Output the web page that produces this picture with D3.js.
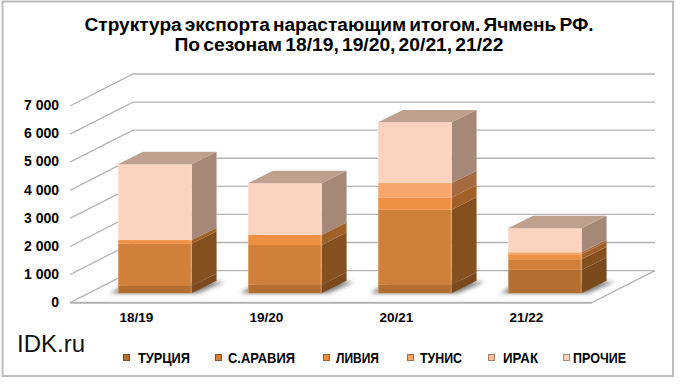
<!DOCTYPE html>
<html>
<head>
<meta charset="utf-8">
<script src="https://cdn.jsdelivr.net/npm/d3@7"></script>
<style>
html, body { margin: 0; padding: 0; background: #fff; }
svg { display: block; font-family: "Liberation Sans", Arial, sans-serif; }
</style>
</head>
<body>
<div id="chart-container"></div>
<script>
// values (thousand tons, cumulative)
var seasons = ["18/19", "19/20", "20/21", "21/22"];
var seriesNames = ["ТУРЦИЯ", "С.АРАВИЯ", "ЛИВИЯ", "ТУНИС", "ИРАК", "ПРОЧИЕ"];
var turkey = [260, 300, 300, 830];
var saudi = [1500, 1415, 2670, 380];
var libya = [130, 357, 440, 178];
var tunisia = [0, 0, 510, 70];
var iraq = [0, 0, 0, 0];
var other = [2700, 1840, 2160, 855];
var yTicks = [0, 1000, 2000, 3000, 4000, 5000, 6000, 7000];
var titleLines = ["Структура экспорта нарастающим итогом. Ячмень РФ.", "По сезонам 18/19, 19/20, 20/21, 21/22"];

var frontColors = ["#b46f30", "#d08038", "#ee8f42", "#f9a66c", "#fbc09a", "#fcd3bf"];
var sideColors = ["#7a4a1c", "#855020", "#a06028", "#a56a40", "#a87c64", "#a58878"];
var topColor = "#bfa08f";

var svgWidth = 680;
var svgHeight = 384;

var svg = d3.select("#chart-container")
    .append("svg")
    .attr("width", svgWidth)
    .attr("height", svgHeight);

var defs = svg.append("defs");
defs.append("filter")
    .attr("id", "blur")
    .attr("x", "-20%").attr("y", "-50%").attr("width", "140%").attr("height", "200%")
    .append("feGaussianBlur")
    .attr("stdDeviation", 2);

// outer frame
svg.append("rect")
    .attr("x", 2.5).attr("y", 1.5)
    .attr("width", 670.5).attr("height", 374.5)
    .attr("fill", "#fff")
    .attr("stroke", "#bdbdbd")
    .attr("stroke-width", 2);

// title
var titleLengths = [509, 329];
svg.selectAll(".title")
    .data(titleLines)
    .enter().append("text")
    .attr("class", "title")
    .attr("x", 339)
    .attr("y", function(d, i) { return 30.5 + i * 20.5; })
    .attr("text-anchor", "middle")
    .attr("font-size", 17.5)
    .attr("font-weight", "bold")
    .attr("word-spacing", -2)
    .attr("fill", "#000")
    .attr("textLength", function(d, i) { return titleLengths[i]; })
    .attr("lengthAdjust", "spacingAndGlyphs")
    .text(function(d) { return d; });

// scales: front edge of the floor, back wall, and the plane the bars stand on
var yFront = d3.scaleLinear().domain([0, 7000]).range([302.7, 106]);
var yBack = d3.scaleLinear().domain([0, 7000]).range([270.6, 74]);
var yBar = d3.scaleLinear().domain([0, 7000]).range([293.2, 96.5]);

var x = d3.scaleBand()
    .domain(seasons)
    .range([89.8, 609.8])
    .paddingInner(0.434)
    .paddingOuter(0.217);

var frontLeft = 70;
var backLeft = 133;
var backRight = 655;
var frontRight = 592;
var depthX = 25;
var depthY = 12.4;

// gridlines
svg.selectAll(".grid")
    .data(yTicks.filter(function(d) { return d > 0; }))
    .enter().append("polyline")
    .attr("class", "grid")
    .attr("fill", "none")
    .attr("stroke", "#b4b4b4")
    .attr("stroke-width", 1.3)
    .attr("points", function(d) {
        return [[frontLeft, yFront(d)], [backLeft, yBack(d)], [backRight, yBack(d)]].join(" ");
    });

// floor
svg.append("polygon")
    .attr("fill", "#fff")
    .attr("stroke", "#b4b4b4")
    .attr("stroke-width", 1.3)
    .attr("points", [
        [frontLeft, yFront(0)], [frontRight, yFront(0)],
        [backRight, yBack(0)], [backLeft, yBack(0)]
    ].join(" "));
svg.append("line")
    .attr("x1", frontLeft).attr("x2", frontRight)
    .attr("y1", yFront(0)).attr("y2", yFront(0))
    .attr("stroke", "#b4b4b4")
    .attr("stroke-width", 2);

var rows = seasons.map(function(s, i) {
    return { season: s, v0: turkey[i], v1: saudi[i], v2: libya[i], v3: tunisia[i], v4: iraq[i], v5: other[i] };
});
var stacked = d3.stack().keys(["v0", "v1", "v2", "v3", "v4", "v5"])(rows);

// bar shadows on the floor
svg.selectAll(".shadow")
    .data(seasons)
    .enter().append("polygon")
    .attr("class", "shadow")
    .attr("fill", "#555")
    .attr("opacity", 0.75)
    .attr("filter", "url(#blur)")
    .attr("points", function(d) {
        var x0 = x(d), x1 = x0 + x.bandwidth();
        return [[x0 - 8, yBar(0)], [x1 + 6, yBar(0)], [x1 + depthX + 8, yBar(0) - depthY + 1], [x0 + 12, yBar(0) - depthY + 1]].join(" ");
    });

// bars, one group per season so nearer segments stay in stacking order
seasons.forEach(function(season, i) {
    var g = svg.append("g").attr("class", "bar");
    var x0 = x(season);
    var x1 = x0 + x.bandwidth();

    stacked.forEach(function(layer, k) {
        var v0 = layer[i][0];
        var v1 = layer[i][1];
        if (v1 == v0) return;

        g.append("polygon")
            .attr("fill", sideColors[k])
            .attr("points", [
                [x1, yBar(v0)], [x1 + depthX, yBar(v0) - depthY],
                [x1 + depthX, yBar(v1) - depthY], [x1, yBar(v1)]
            ].join(" "));

        g.append("rect")
            .attr("x", x0)
            .attr("y", yBar(v1))
            .attr("width", x.bandwidth())
            .attr("height", yBar(v0) - yBar(v1))
            .attr("fill", frontColors[k]);

        // pale edges of the bevel
        g.append("path")
            .attr("fill", "none")
            .attr("stroke", "#fff")
            .attr("stroke-opacity", 0.25)
            .attr("d", "M" + (x0 + 0.5) + "," + yBar(v1) + "V" + yBar(v0) + "M" + (x1 - 0.5) + "," + yBar(v1) + "V" + yBar(v0));
    });

    var total = stacked[5][i][1];
    g.append("polygon")
        .attr("fill", topColor)
        .attr("points", [
            [x0, yBar(total)], [x1, yBar(total)],
            [x1 + depthX, yBar(total) - depthY], [x0 + depthX, yBar(total) - depthY]
        ].join(" "));
});

// y axis
var yAxis = d3.axisLeft(yFront)
    .tickValues(yTicks)
    .tickSize(0)
    .tickPadding(0)
    .tickFormat(function(d) { return d3.format(",")(d).replace(",", " "); });

svg.append("g")
    .attr("transform", "translate(59,-0.7)")
    .call(yAxis)
    .call(function(g) { g.select(".domain").remove(); })
    .selectAll("text")
    .attr("font-family", "Liberation Sans")
    .attr("font-size", 14)
    .attr("font-weight", "bold")
    .attr("fill", "#000");

// x axis labels
var xAxis = d3.axisBottom(x).tickSize(0).tickPadding(0);
svg.append("g")
    .attr("transform", "translate(-18.5,312.5)")
    .call(xAxis)
    .call(function(g) { g.select(".domain").remove(); })
    .selectAll("text")
    .attr("font-family", "Liberation Sans")
    .attr("font-size", 13.5)
    .attr("font-weight", "bold")
    .attr("fill", "#000");

svg.append("text")
    .attr("x", 17)
    .attr("y", 352)
    .attr("font-size", 24)
    .attr("fill", "#111")
    .text("IDK.ru");

// legend
var legendMarkX = [123, 215, 323, 407, 488, 563];
var legendTextX = [138, 228, 336, 420, 503, 573];
var legendTextW = [52, 67, 43, 42, 35, 53];
var legendY = 354;

svg.selectAll(".legend-mark")
    .data(seriesNames)
    .enter().append("rect")
    .attr("class", "legend-mark")
    .attr("x", function(d, i) { return legendMarkX[i] + 0.5; })
    .attr("y", legendY + 0.5)
    .attr("width", 6)
    .attr("height", 6)
    .attr("fill", function(d, i) { return frontColors[i]; })
    .attr("stroke", function(d, i) { return sideColors[i]; })
    .attr("stroke-width", 1);

svg.selectAll(".legend-text")
    .data(seriesNames)
    .enter().append("text")
    .attr("class", "legend-text")
    .attr("x", function(d, i) { return legendTextX[i]; })
    .attr("y", legendY + 9)
    .attr("font-size", 14)
    .attr("font-weight", "bold")
    .attr("fill", "#000")
    .attr("textLength", function(d, i) { return legendTextW[i]; })
    .attr("lengthAdjust", "spacingAndGlyphs")
    .text(function(d) { return d; });
</script>
</body>
</html>
